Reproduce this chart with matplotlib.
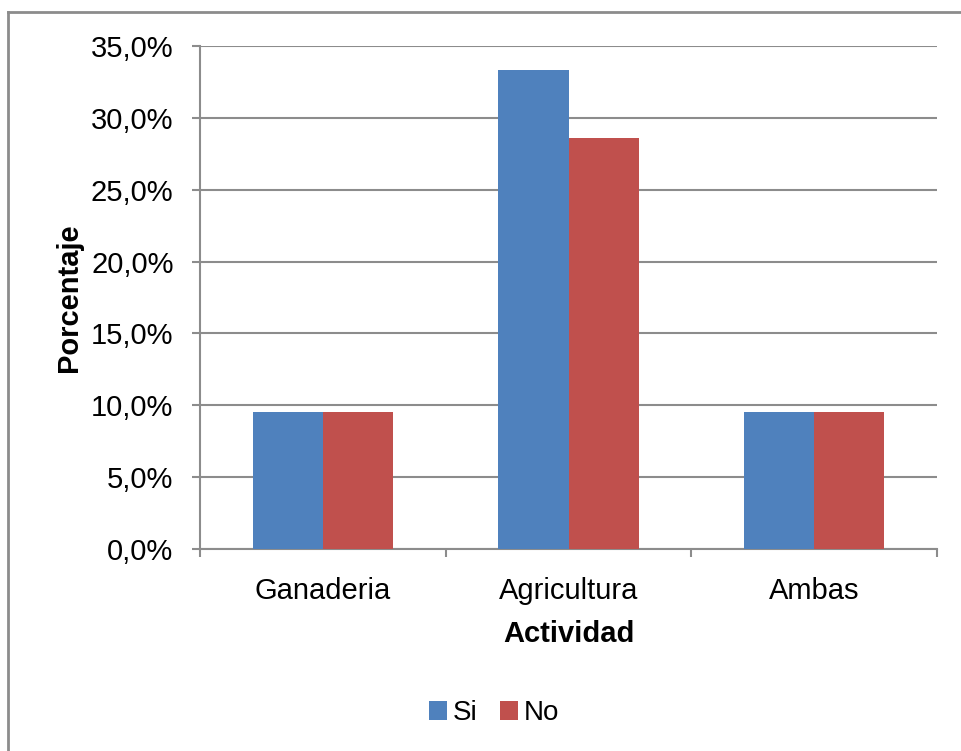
import matplotlib
matplotlib.use("Agg")
import matplotlib.pyplot as plt
from matplotlib.lines import Line2D
import numpy as np

plt.rcParams['font.family'] = ['Liberation Sans', 'DejaVu Sans']

categorias = ['Ganaderia', 'Agricultura', 'Ambas']
si = [9.5, 33.3, 9.5]
no = [9.5, 28.6, 9.5]
yticks = [0, 5, 10, 15, 20, 25, 30, 35]

azul = '#4F81BD'
rojo = '#C0504D'
gris = '#8C8C8C'

fig = plt.figure(figsize=(9.61, 7.51), dpi=100)
ax = fig.add_axes([200/961, 1 - 549/751, 737/961, 503/751])

x = np.arange(len(categorias))
w = 1 / 3.5
ax.bar(x - w/2, si, w, color=azul, label='Si', zorder=3)
ax.bar(x + w/2, no, w, color=rojo, label='No', zorder=3)

ax.set_xlim(-0.5, 2.5)
ax.set_ylim(0, 35)
ax.set_yticks(yticks)
ax.set_yticklabels([f'{v:.1f}%'.replace('.', ',') for v in yticks], fontsize=21)
ax.set_xticks(x)
ax.set_xticklabels(categorias, fontsize=21)
ax.set_xticks([-0.5, 0.5, 1.5, 2.5], minor=True)
ax.tick_params(axis='x', which='major', length=0, pad=20)
ax.tick_params(axis='x', which='minor', length=6, width=1.5, color=gris)
ax.tick_params(axis='y', length=6, width=1.5, color=gris, pad=13)

ax.yaxis.grid(True, color=gris, linewidth=1.5, zorder=0)
ax.set_axisbelow(True)
for s in ['top', 'right']:
    ax.spines[s].set_visible(False)
for s in ['left', 'bottom']:
    ax.spines[s].set_color(gris)
    ax.spines[s].set_linewidth(1.5)

ax.set_xlabel('Actividad', fontsize=21, fontweight='bold', labelpad=11)
ax.set_ylabel('Porcentaje', fontsize=21, fontweight='bold', labelpad=6)

fig.legend(loc='center', bbox_to_anchor=(494/961, 1 - 713/751), ncol=2,
           frameon=False, fontsize=20, handlelength=0.65, handleheight=0.65,
           handletextpad=0.2, columnspacing=0.8)

# borde del grafico
fig.add_artist(Line2D([8/961, 8/961], [0, 1 - 12/751], color=gris, linewidth=2))
fig.add_artist(Line2D([8/961, 1], [1 - 12/751, 1 - 12/751], color=gris, linewidth=2))

fig.savefig('out.png', dpi=100)
